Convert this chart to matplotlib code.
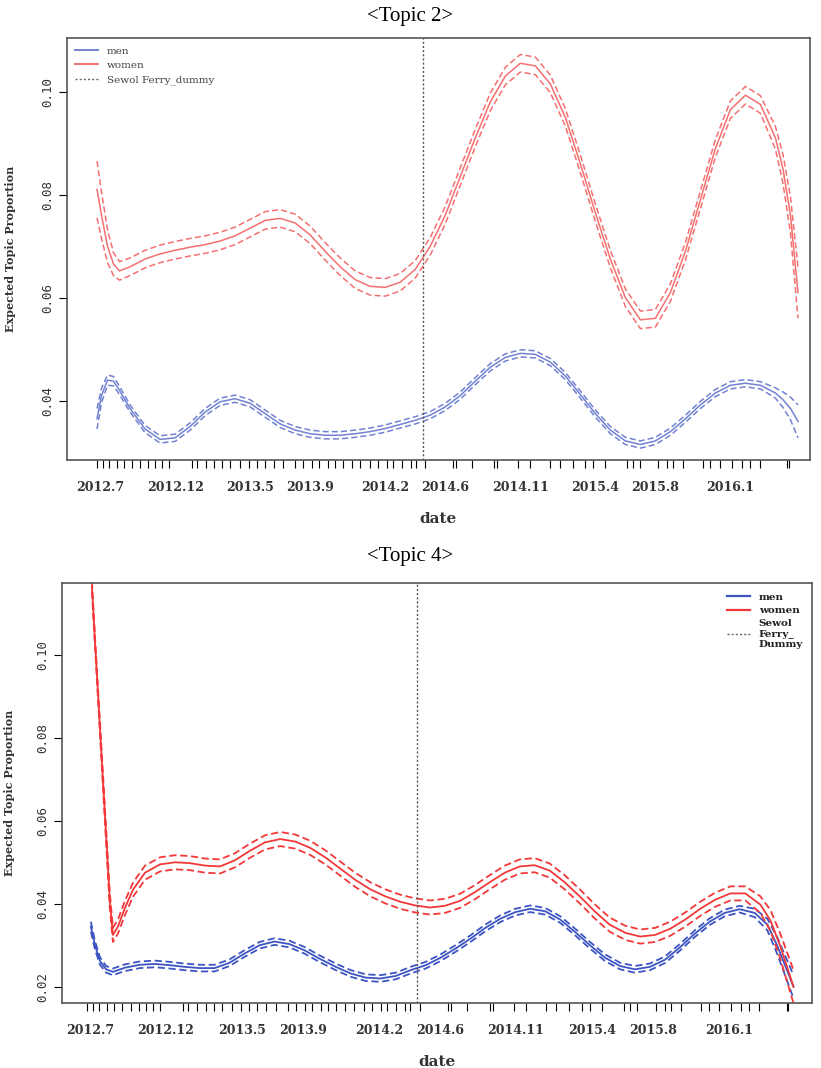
import numpy as np
import matplotlib
matplotlib.use("Agg")
import matplotlib.pyplot as plt
from matplotlib.lines import Line2D

# x axis: months since 2012.7
label_pos = [0, 5, 10, 14, 19, 23, 28, 33, 37, 42]
label_txt = ['2012.7', '2012.12', '2013.5', '2013.9', '2014.2',
             '2014.6', '2014.11', '2015.4', '2015.8', '2016.1']
sewol = 21.5

# document dates (rug)
rug = [-0.22, 0.2, 0.6, 1.13, 1.6, 2.13, 2.67, 3.2, 3.67, 4.13, 4.6, 6.13, 6.47,
       7.07, 7.6, 8.13, 8.67, 9.33, 9.93, 10.47, 11.0, 11.6, 12.2, 13.0, 13.53,
       14.13, 14.6, 15.2, 15.67, 16.2, 16.8, 17.33, 18.0, 18.53, 19.13, 19.53,
       20.13, 20.73, 21.07, 21.67, 23.53, 23.73, 24.8, 26.27, 26.47, 27.87, 28.67,
       30.0, 30.67, 31.53, 32.33, 32.87, 33.67, 35.13, 35.53, 36.0, 37.2, 37.8,
       38.2, 38.87, 40.2, 40.67, 41.33, 42.13, 42.8, 43.33, 44.0, 45.8, 45.87]

# ---- Topic 2 ----
t2_m = [-0.2, 0.1, 0.5, 0.9, 1.3, 2, 3, 4, 5, 6, 7, 8, 9, 10, 11, 12, 13, 14, 15,
        16, 17, 18, 19, 20, 21, 22, 23, 24, 25, 26, 27, 28, 29, 30, 31, 32, 33, 34,
        35, 36, 37, 38, 39, 40, 41, 42, 43, 44, 45, 45.5, 46, 46.5]
t2_women = [0.081, 0.076, 0.070, 0.0665, 0.0652, 0.0660, 0.0675, 0.0685, 0.0692,
            0.0698, 0.0703, 0.0710, 0.0720, 0.0735, 0.0750, 0.0754, 0.0745, 0.0722,
            0.0690, 0.0660, 0.0635, 0.0622, 0.0620, 0.0630, 0.0655, 0.0700, 0.0760,
            0.0835, 0.0910, 0.0980, 0.1030, 0.1055, 0.1050, 0.1015, 0.0950, 0.0860,
            0.0765, 0.0675, 0.0600, 0.0557, 0.0560, 0.0610, 0.0690, 0.0790, 0.0890,
            0.0965, 0.0993, 0.0975, 0.0910, 0.0850, 0.0760, 0.0610]
t2_women_ci = [0.0055, 0.0045, 0.0032, 0.0022, 0.0018] + [0.0017] * 43 + \
              [0.0022, 0.0028, 0.0035, 0.0050]
t2_men = [0.0365, 0.0410, 0.0440, 0.0438, 0.0420, 0.0385, 0.0345, 0.0325, 0.0328,
          0.0350, 0.0378, 0.0398, 0.0404, 0.0395, 0.0375, 0.0355, 0.0343, 0.0336,
          0.0333, 0.0333, 0.0336, 0.0340, 0.0346, 0.0354, 0.0362, 0.0372, 0.0388,
          0.0410, 0.0438, 0.0465, 0.0484, 0.0492, 0.0490, 0.0475, 0.0448, 0.0412,
          0.0375, 0.0343, 0.0322, 0.0315, 0.0322, 0.0340, 0.0365, 0.0392, 0.0415,
          0.0430, 0.0434, 0.0430, 0.0415, 0.0402, 0.0385, 0.0360]
t2_men_ci = [0.0020, 0.0014, 0.0010, 0.0009, 0.0008] + [0.0007] * 43 + \
            [0.0010, 0.0015, 0.0022, 0.0032]

# ---- Topic 4 ----
t4_wm = [0.13, 0.35, 0.6, 0.85, 1.1, 1.3, 1.51, 1.84, 2.30, 2.83, 3.62,
         4.61, 5.59, 6.57, 7.57, 8.55, 9.54, 10.53, 11.51, 12.51, 13.49, 14.47,
         15.47, 16.45, 17.43, 18.43, 19.41, 20.39, 21.38, 22.36, 23.34, 24.33,
         25.31, 26.29, 27.28, 28.26, 29.24, 30.23, 31.21, 32.20, 33.18, 34.16,
         35.20, 36.18, 37.17, 38.16, 39.14, 40.13, 41.12, 42.11, 43.09, 44.08,
         44.74, 45.37, 46.26]
t4_women = [0.1165, 0.102, 0.086, 0.070, 0.054, 0.041, 0.0325, 0.0345,
            0.039, 0.0434, 0.0475, 0.0495, 0.0500, 0.0498, 0.0492, 0.0490, 0.0505,
            0.0528, 0.0548, 0.0556, 0.0550, 0.0535, 0.0512, 0.0485, 0.0458, 0.0435,
            0.0418, 0.0405, 0.0396, 0.0391, 0.0395, 0.0407, 0.0428, 0.0452, 0.0475,
            0.0490, 0.0493, 0.0480, 0.0452, 0.0418, 0.0382, 0.0350, 0.0330, 0.0321,
            0.0325, 0.0340, 0.0362, 0.0388, 0.0410, 0.0425, 0.0425, 0.0398, 0.0360,
            0.0300, 0.0200]
t4_women_ci = [0.0012, 0.0012, 0.0014, 0.0016, 0.0017, 0.0018] + [0.0017] * 45 + \
              [0.0020, 0.0025, 0.0030, 0.0040]
t4_mm = [0.06, 0.33, 0.66, 1.06, 1.51, 2.30, 3.28, 4.26, 5.25, 6.23, 7.21, 8.20,
         9.18, 10.16, 11.15, 12.13, 13.11, 14.10, 15.08, 16.16, 17.15, 18.13, 19.11,
         20.10, 21.08, 22.07, 23.05, 24.03, 25.02, 26.00, 26.98, 27.97, 28.95,
         29.93, 30.92, 31.90, 32.88, 33.87, 34.85, 35.83, 36.82, 37.80, 38.79,
         39.77, 40.75, 41.74, 42.72, 43.70, 44.54, 45.18, 46.26]
t4_men = [0.0345, 0.0300, 0.0262, 0.0242, 0.0236, 0.0246, 0.0253, 0.0255, 0.0252,
          0.0248, 0.0245, 0.0245, 0.0258, 0.0280, 0.0300, 0.0309, 0.0303, 0.0288,
          0.0268, 0.0248, 0.0232, 0.0222, 0.0220, 0.0226, 0.0240, 0.0252, 0.0270,
          0.0292, 0.0316, 0.0342, 0.0364, 0.0380, 0.0388, 0.0382, 0.0362, 0.0332,
          0.0300, 0.0270, 0.0250, 0.0242, 0.0248, 0.0265, 0.0295, 0.0328, 0.0357,
          0.0378, 0.0387, 0.0378, 0.0350, 0.0300, 0.0200]
t4_men_ci = [0.0012, 0.0010, 0.0009] + [0.0008] * 44 + [0.0010, 0.0014, 0.0020, 0.0028]


def draw(ax, m_m, men, men_ci, w_m, women, women_ci, blue, red, lw, ylab_x):
    men, men_ci = np.array(men), np.array(men_ci)
    women, women_ci = np.array(women), np.array(women_ci)
    ax.plot(m_m, men, color=blue, lw=lw)
    ax.plot(m_m, men + men_ci, color=blue, lw=lw, ls=(0, (4, 2)))
    ax.plot(m_m, men - men_ci, color=blue, lw=lw, ls=(0, (4, 2)))
    ax.plot(w_m, women, color=red, lw=lw)
    ax.plot(w_m, women + women_ci, color=red, lw=lw, ls=(0, (4, 2)))
    ax.plot(w_m, women - women_ci, color=red, lw=lw, ls=(0, (4, 2)))
    ax.axvline(sewol, color='#555555', lw=1.0, ls=(0, (1.5, 1.5)))

    ax.set_xticks(rug)
    ax.set_xticklabels([])
    ax.set_xticks(label_pos, minor=True)
    ax.set_xticklabels(label_txt, minor=True, family='DejaVu Serif',
                       fontweight='bold', fontsize=9, color='#333333')
    ax.tick_params(axis='x', which='major', length=6, width=0.8, direction='out')
    ax.tick_params(axis='x', which='minor', length=0, pad=15)
    ax.tick_params(axis='y', length=6, width=0.8, direction='out', pad=3)
    for lab in ax.get_yticklabels():
        lab.set_rotation(90)
        lab.set_va('center')
        lab.set_family('DejaVu Sans Mono')
        lab.set_fontsize(9)
        lab.set_color('#333333')
    for sp in ax.spines.values():
        sp.set_color('#555555')
        sp.set_linewidth(1.2)
    ax.set_xlabel('date', family='DejaVu Serif', fontweight='bold', fontsize=11,
                  color='#333333', labelpad=13)
    ax.set_ylabel('Expected Topic Proportion', family='DejaVu Serif',
                  fontweight='bold', fontsize=8, color='#333333')
    ax.yaxis.set_label_coords(ylab_x, 0.5)


fig = plt.figure(figsize=(8.21, 10.68), dpi=100)

ax1 = fig.add_axes([0.0816, 0.5693, 0.905, 0.3951])
ax1.set_xlim(-2.2, 47.3)
ax1.set_ylim(0.0285, 0.1104)
ax1.set_yticks([0.04, 0.06, 0.08, 0.10])
ax1.set_yticklabels(['0.04', '0.06', '0.08', '0.10'])
draw(ax1, t2_m, t2_men, t2_men_ci, t2_m, t2_women, t2_women_ci,
     '#7282d2', '#f47070', 1.1, -0.068)
h1 = [Line2D([], [], color='#7282d2', lw=1.4),
      Line2D([], [], color='#f47070', lw=1.4),
      Line2D([], [], color='#666666', lw=1.0, ls=(0, (1.5, 1.5)))]
ax1.legend(h1, ['men', 'women', 'Sewol Ferry_dummy'], loc='upper left',
           frameon=False, prop={'family': 'DejaVu Serif', 'size': 7.5},
           handlelength=2.2, labelspacing=0.5, borderaxespad=0.4,
           labelcolor='#444444')

ax2 = fig.add_axes([0.0755, 0.0609, 0.914, 0.3932])
ax2.set_xlim(-1.84, 47.5)
ax2.set_ylim(0.0161, 0.1173)
ax2.set_yticks([0.02, 0.04, 0.06, 0.08, 0.10])
ax2.set_yticklabels(['0.02', '0.04', '0.06', '0.08', '0.10'])
draw(ax2, t4_mm, t4_men, t4_men_ci, t4_wm, t4_women, t4_women_ci,
     '#3d55c2', '#f23838', 1.3, -0.062)
h2 = [Line2D([], [], color='#3d55c2', lw=1.6),
      Line2D([], [], color='#f23838', lw=1.6),
      Line2D([], [], color='#666666', lw=1.0, ls=(0, (1.5, 1.5)))]
ax2.legend(h2, ['men', 'women', 'Sewol\nFerry_\nDummy'], loc='upper right',
           frameon=False, prop={'family': 'DejaVu Serif', 'size': 7.5,
                                'weight': 'bold'},
           handlelength=2.2, labelspacing=0.4, borderaxespad=0.5,
           labelcolor='#222222')

fig.text(0.5, 0.985, '<Topic 2>', ha='center', va='center',
         family='Liberation Serif', fontsize=15)
fig.text(0.5, 0.479, '<Topic 4>', ha='center', va='center',
         family='Liberation Serif', fontsize=15)

fig.savefig('out.png', dpi=100)
